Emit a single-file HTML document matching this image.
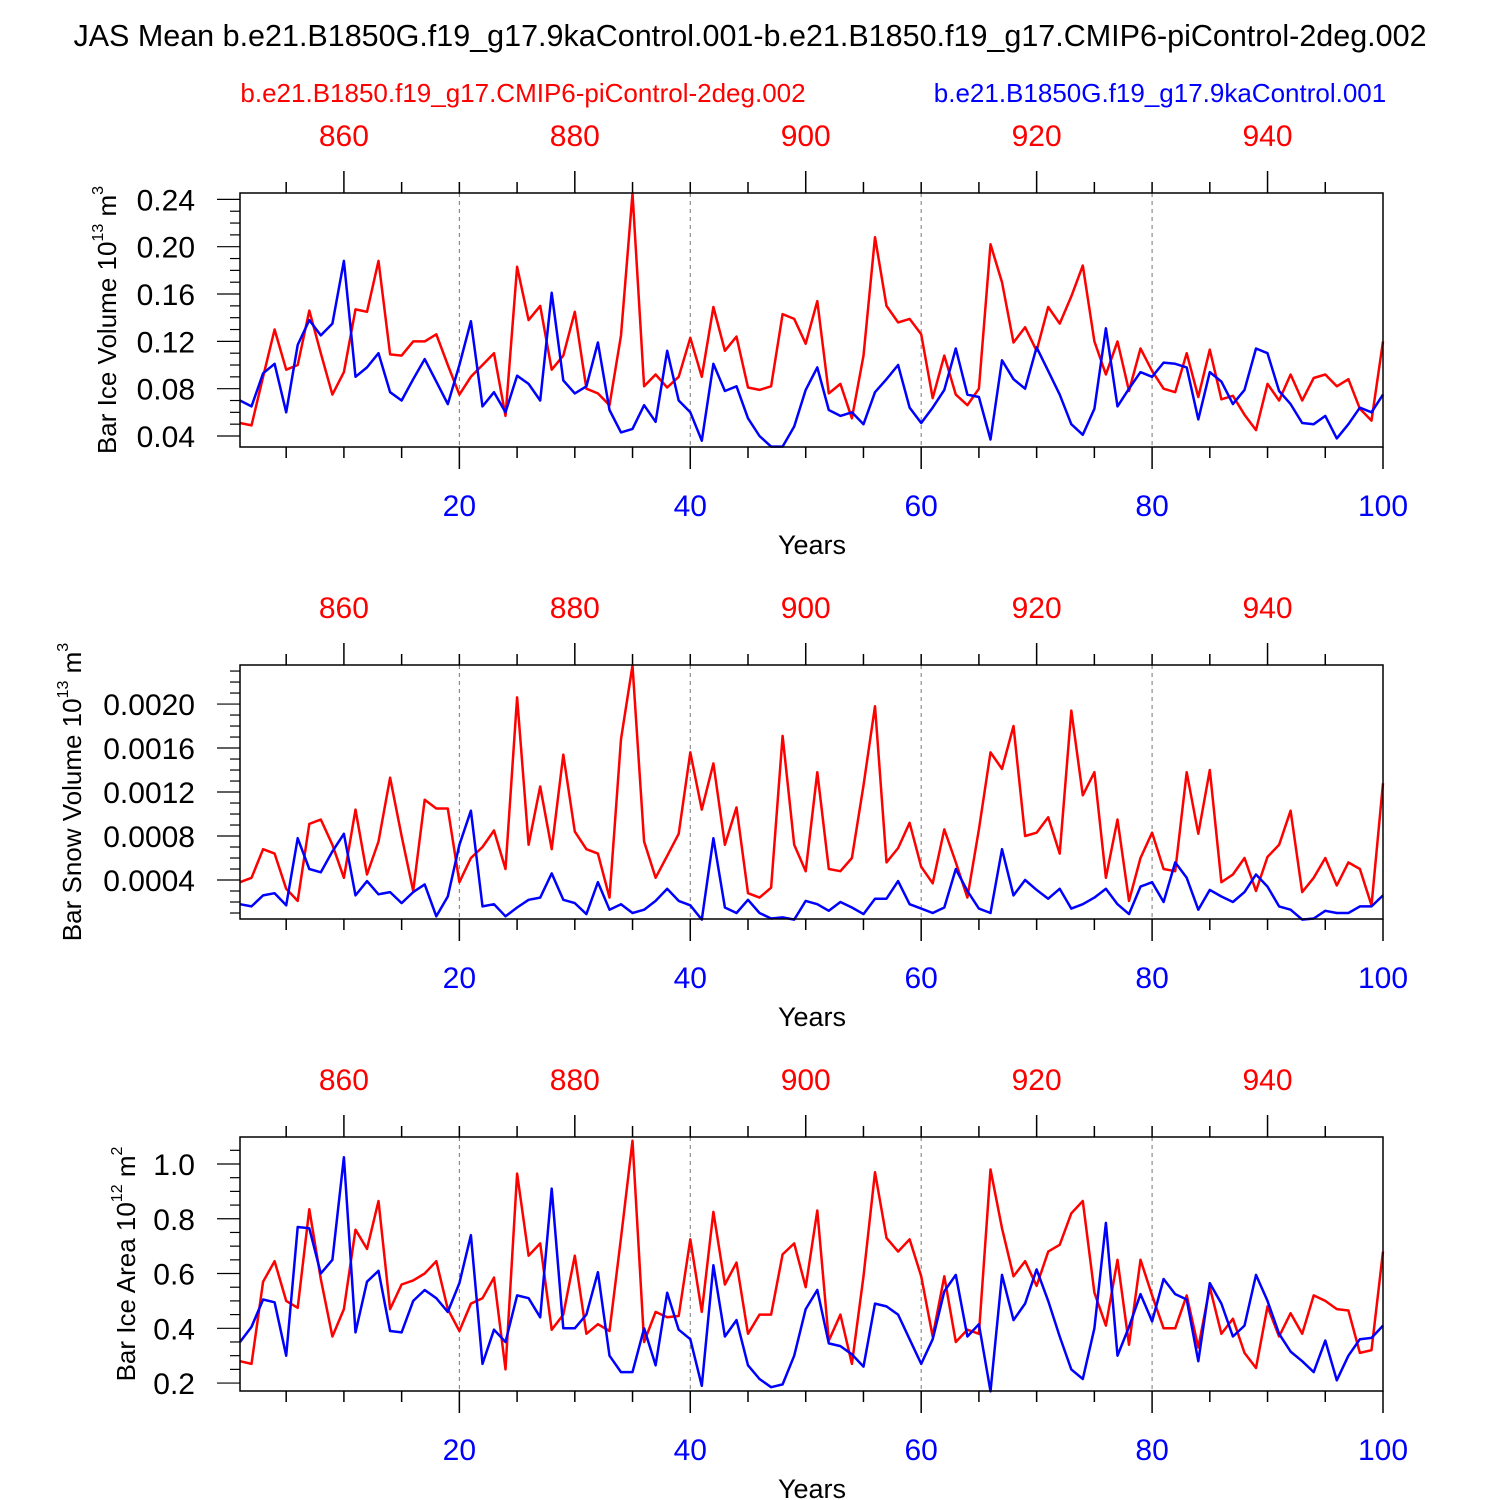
<!DOCTYPE html>
<html><head><meta charset="utf-8"><style>
html,body{margin:0;padding:0;background:#fff;}
svg{display:block;font-family:"Liberation Sans",Arial,sans-serif;}
</style></head><body>
<svg id="chart" width="1500" height="1500" viewBox="0 0 1500 1500">
<text x="750" y="46" text-anchor="middle" font-size="30.5">JAS Mean b.e21.B1850G.f19_g17.9kaControl.001-b.e21.B1850.f19_g17.CMIP6-piControl-2deg.002</text>
<text x="523" y="102" text-anchor="middle" font-size="26" fill="#ff0000">b.e21.B1850.f19_g17.CMIP6-piControl-2deg.002</text>
<text x="1160" y="102" text-anchor="middle" font-size="26" fill="#0000ff">b.e21.B1850G.f19_g17.9kaControl.001</text>
</svg>
<script>
const years=Array.from({length:100},(_,i)=>i+1);
const iceVolRed=[0.051,0.049,0.09,0.13,0.096,0.10,0.146,0.11,0.075,0.094,0.147,0.145,0.188,0.109,0.108,0.12,0.12,0.126,0.10,0.075,0.09,0.10,0.11,0.057,0.183,0.138,0.15,0.096,0.108,0.145,0.08,0.076,0.066,0.125,0.245,0.082,0.092,0.081,0.09,0.123,0.09,0.149,0.112,0.124,0.081,0.079,0.082,0.143,0.139,0.118,0.154,0.076,0.084,0.055,0.108,0.208,0.15,0.136,0.139,0.126,0.072,0.108,0.075,0.066,0.08,0.202,0.17,0.119,0.132,0.112,0.149,0.135,0.158,0.184,0.12,0.092,0.12,0.078,0.114,0.095,0.08,0.077,0.11,0.073,0.113,0.071,0.074,0.058,0.045,0.084,0.07,0.092,0.07,0.089,0.092,0.082,0.088,0.063,0.053,0.12];
const iceVolBlue=[0.07,0.065,0.093,0.101,0.06,0.117,0.138,0.125,0.135,0.188,0.09,0.098,0.11,0.077,0.07,0.088,0.105,0.086,0.067,0.1,0.137,0.065,0.077,0.06,0.091,0.084,0.07,0.161,0.087,0.076,0.082,0.119,0.062,0.043,0.046,0.066,0.052,0.112,0.07,0.06,0.036,0.101,0.078,0.082,0.055,0.04,0.031,0.031,0.048,0.079,0.098,0.062,0.057,0.06,0.05,0.077,0.088,0.1,0.064,0.051,0.064,0.079,0.114,0.075,0.073,0.037,0.104,0.088,0.08,0.115,0.095,0.075,0.05,0.041,0.063,0.131,0.065,0.08,0.094,0.09,0.102,0.101,0.098,0.054,0.094,0.086,0.067,0.079,0.114,0.11,0.078,0.067,0.051,0.05,0.057,0.038,0.05,0.064,0.06,0.075];
const snowRed=[3.8,4.2,6.8,6.4,3.2,2.1,9.1,9.5,7.2,4.2,10.4,4.5,7.5,13.3,8.0,3.0,11.3,10.5,10.5,3.8,6.0,7.0,8.5,5.0,20.6,7.2,12.5,6.8,15.4,8.4,6.8,6.4,2.4,16.8,23.5,7.5,4.2,6.2,8.2,15.6,10.4,14.6,7.2,10.6,2.8,2.4,3.3,17.1,7.2,4.8,13.8,5.0,4.8,6.0,12.6,19.8,5.6,6.9,9.2,5.2,3.7,8.6,5.6,2.4,8.6,15.6,14.1,18.0,8.0,8.3,9.7,6.4,19.4,11.7,13.8,4.2,9.5,2.1,6.0,8.3,5.0,4.8,13.8,8.2,14.0,3.8,4.5,6.0,3.0,6.1,7.2,10.3,2.9,4.2,6.0,3.5,5.6,5.0,1.7,12.8];
const snowBlue=[1.8,1.6,2.6,2.8,1.7,7.8,5.0,4.7,6.6,8.2,2.6,3.9,2.7,2.9,1.9,2.9,3.6,0.7,2.5,7.2,10.3,1.6,1.8,0.7,1.5,2.2,2.4,4.6,2.2,1.9,0.9,3.8,1.3,1.8,1.0,1.3,2.1,3.2,2.1,1.7,0.4,7.8,1.5,1.0,2.2,1.0,0.5,0.6,0.4,2.1,1.8,1.2,2.0,1.5,0.9,2.3,2.3,3.9,1.8,1.4,1.0,1.5,5.0,3.0,1.4,1.0,6.8,2.6,4.0,3.1,2.3,3.2,1.4,1.8,2.4,3.2,1.8,0.9,3.4,3.8,2.0,5.6,4.2,1.3,3.1,2.5,2.0,2.9,4.5,3.4,1.6,1.3,0.4,0.5,1.2,1.0,1.0,1.6,1.6,2.6];
const areaRed=[0.28,0.27,0.57,0.645,0.5,0.475,0.835,0.58,0.37,0.47,0.76,0.69,0.865,0.47,0.56,0.575,0.6,0.645,0.47,0.39,0.49,0.51,0.585,0.25,0.965,0.665,0.71,0.395,0.45,0.665,0.38,0.415,0.39,0.73,1.085,0.35,0.46,0.44,0.445,0.725,0.46,0.825,0.56,0.64,0.38,0.45,0.45,0.67,0.71,0.55,0.83,0.355,0.45,0.27,0.59,0.97,0.73,0.68,0.725,0.59,0.37,0.59,0.35,0.395,0.38,0.98,0.765,0.59,0.645,0.555,0.68,0.705,0.82,0.865,0.53,0.41,0.65,0.34,0.65,0.52,0.4,0.4,0.52,0.33,0.55,0.38,0.435,0.31,0.255,0.48,0.37,0.455,0.38,0.52,0.5,0.47,0.465,0.31,0.32,0.68];
const areaBlue=[0.35,0.405,0.505,0.495,0.3,0.77,0.765,0.6,0.65,1.025,0.385,0.57,0.61,0.39,0.385,0.5,0.54,0.51,0.46,0.565,0.74,0.27,0.395,0.35,0.52,0.51,0.44,0.91,0.4,0.4,0.45,0.605,0.3,0.24,0.24,0.4,0.265,0.53,0.395,0.36,0.19,0.63,0.37,0.43,0.265,0.215,0.185,0.195,0.3,0.47,0.54,0.345,0.335,0.305,0.26,0.49,0.48,0.45,0.36,0.27,0.36,0.535,0.595,0.37,0.415,0.17,0.595,0.43,0.49,0.615,0.5,0.37,0.25,0.215,0.4,0.785,0.3,0.405,0.525,0.425,0.58,0.525,0.505,0.28,0.565,0.49,0.37,0.41,0.595,0.5,0.38,0.315,0.28,0.24,0.355,0.21,0.3,0.36,0.365,0.41];
const bottomTicks=[20,40,60,80,100];
const topTicks=[860,880,900,920,940];
const iceVolTicks=[0.04,0.08,0.12,0.16,0.20,0.24];
const snowTicks=[4,8,12,16,20];
const areaTicks=[0.2,0.4,0.6,0.8,1.0];
const yearOffset=850;

const NS="http://www.w3.org/2000/svg";
const svg=document.getElementById('chart');
function mk(tag,attrs,parent){const e=document.createElementNS(NS,tag);for(const k in attrs)e.setAttribute(k,attrs[k]);(parent||svg).appendChild(e);return e;}
const X0=240,X1=1383;
function xs(v){return X0+(v-1)/99*(X1-X0);}

const panels=[
 {top:193,bot:447,ymin:0.0307,ymax:0.2454,ticks:iceVolTicks,minor:0.01,fmt:v=>v.toFixed(2),red:iceVolRed,blue:iceVolBlue,name:'ice-volume',
  ylab:'Bar Ice Volume 10<tspan font-size="16" dy="-13">13</tspan><tspan dy="13"> m</tspan><tspan font-size="16" dy="-13">3</tspan>',ylx:117},
 {top:665,bot:919,ymin:0.455,ymax:23.55,ticks:snowTicks,minor:1,fmt:v=>(v/10000).toFixed(4),red:snowRed,blue:snowBlue,name:'snow-volume',
  ylab:'Bar Snow Volume 10<tspan font-size="16" dy="-13">13</tspan><tspan dy="13"> m</tspan><tspan font-size="16" dy="-13">3</tspan>',ylx:82},
 {top:1137,bot:1391,ymin:0.171,ymax:1.0986,ticks:areaTicks,minor:0.05,fmt:v=>v.toFixed(1),red:areaRed,blue:areaBlue,name:'ice-area',
  ylab:'Bar Ice Area 10<tspan font-size="16" dy="-13">12</tspan><tspan dy="13"> m</tspan><tspan font-size="16" dy="-13">2</tspan>',ylx:136}
];
panels.forEach(p=>{
 const g=mk('g',{});
 
 
 const ys=v=>p.bot-(v-p.ymin)/(p.ymax-p.ymin)*(p.bot-p.top);
 [20,40,60,80].forEach(v=>{const l=mk('line',{x1:xs(v),x2:xs(v),y1:p.top,y2:p.bot,stroke:'#777','stroke-width':1,'stroke-dasharray':'4,4'},g);
  
  });
 for(let v=5;v<=100;v+=5){const maj=v%20==0;mk('line',{x1:xs(v),x2:xs(v),y1:p.bot,y2:p.bot+(maj?22:11),stroke:'#000','stroke-width':1.5},g);}
 bottomTicks.forEach(v=>{const t=mk('text',{x:xs(v),y:p.bot+69,'text-anchor':'middle','font-size':30,fill:'#0000ff'},g);t.textContent=v;
  
  });
 for(let v=855;v<=945;v+=5){const maj=v%20==0;mk('line',{x1:xs(v-yearOffset),x2:xs(v-yearOffset),y1:p.top,y2:p.top-(maj?22:11),stroke:'#000','stroke-width':1.5},g);}
 topTicks.forEach(v=>{const t=mk('text',{x:xs(v-yearOffset),y:p.top-47,'text-anchor':'middle','font-size':30,fill:'#ff0000'},g);t.textContent=v;
  
  });
 const start=Math.ceil(p.ymin/p.minor-1e-6);
 for(let k=start;k*p.minor<=p.ymax+1e-9;k++){const v=k*p.minor;const maj=p.ticks.some(t=>Math.abs(t-v)<1e-6);
  mk('line',{x1:X0,x2:X0-(maj?23:10),y1:ys(v),y2:ys(v),stroke:'#000','stroke-width':1.2},g);}
 p.ticks.forEach(v=>{const t=mk('text',{x:X0-45,y:ys(v)+11,'text-anchor':'end','font-size':30},g);t.textContent=p.fmt(v);
  
  });
 [['red','#ff0000'],['blue','#0000ff']].forEach(([k,c])=>{
  const d=p[k].map((v,i)=>(i?'L':'M')+xs(years[i]).toFixed(1)+','+ys(v).toFixed(1)).join('');
  const path=mk('path',{d:d,fill:'none',stroke:c,'stroke-width':2.5,'stroke-linejoin':'round'},g);
  
  
 });
 const r=mk('rect',{x:X0,y:p.top,width:X1-X0,height:p.bot-p.top,fill:'none',stroke:'#000','stroke-width':1.5},g);
 
 
 const xl=mk('text',{x:812,y:p.bot+107,'text-anchor':'middle','font-size':27},g);xl.textContent='Years';
 
 
 const yl=mk('text',{x:0,y:0,'text-anchor':'middle','font-size':26,transform:`translate(${p.ylx-1},${(p.top+p.bot)/2}) rotate(-90)`},g);
 yl.innerHTML=p.ylab;
 
 
});
</script>
</body></html>
